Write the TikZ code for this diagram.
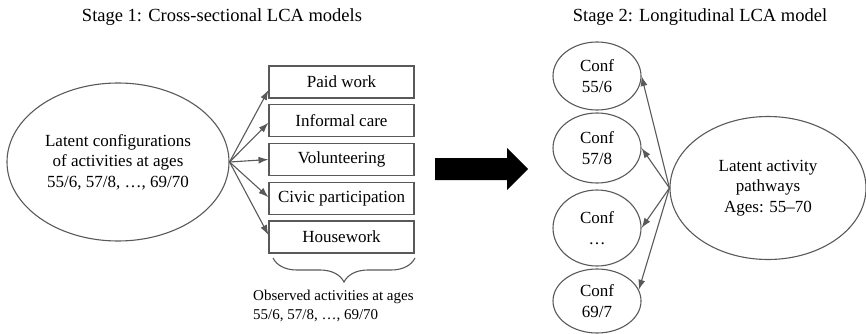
\documentclass[tikz,border=0pt]{standalone}
\usepackage{fontspec}
\setmainfont{Liberation Serif}
\usepackage{tikz}
\usetikzlibrary{shapes.geometric, arrows.meta, positioning, decorations.pathreplacing}

\begin{document}
\begin{tikzpicture}[x=1pt, y=-1pt,
    line/.style={draw=black!65, line width=1.1pt},
    obsbox/.style={line, rectangle, minimum width=145pt, minimum height=32pt, inner sep=0pt,
        font=\fontsize{17}{20}\selectfont},
    latent/.style={line, ellipse, inner sep=0pt, align=center, font=\fontsize{17}{20.5}\selectfont},
    conf/.style={latent, minimum width=88pt, minimum height=70pt},
    arr/.style={-{Latex[length=10pt, width=7pt]}, draw=black!65, line width=1.1pt}]
    \useasboundingbox (0,0) rectangle (866,334);

    % 見出し
    \node[font=\fontsize{18.5}{22}\selectfont] (title1) at (222,17) {Stage 1: Cross-sectional LCA models};
    \node[font=\fontsize{18.5}{22}\selectfont] (title2) at (700,17) {Stage 2: Longitudinal LCA model};

    % 第1段階
    \node[latent, minimum width=222pt, minimum height=158pt] (config) at (118,162)
        {Latent configurations\\of activities at ages\\55/6, 57/8, …, 69/70};
    \foreach \i/\act/\dy in {1/Paid work/-8, 2/Informal care/-2, 3/Volunteering/0, 4/Civic participation/1, 5/Housework/2} {
        \node[obsbox] (b\i) at (341.5,43.25+38.75*\i) {\act};
        \draw[arr] (config.east) -- ([yshift=\dy pt]b\i.west);
    }
    \coordinate (brleft) at (273,258);
    \coordinate (brright) at (415,258);
    \draw[line, decorate, decoration={brace, mirror, amplitude=24pt}] (brleft) -- (brright);
    \node[anchor=north west, align=left, inner sep=0pt, font=\fontsize{15}{19}\selectfont] (observed) at (253,290)
        {Observed activities at ages\\55/6, 57/8, …, 69/70};

    % 太い矢印
    \fill[black] (435,158) -- (507,158) -- (507,148) -- (528,169) -- (507,190) -- (507,180) -- (435,180) -- cycle;

    % 第2段階
    \node[latent, minimum width=196pt, minimum height=143pt] (pathway) at (768,188)
        {Latent activity\\pathways\\Ages: 55–70};
    \foreach \n/\y/\h/\age/\end in {1/76/68/{55/6}/east, 2/148/70/{57/8}/east, 3/228/76/{…}/east, 4/301/64/{69/7}/15} {
        \node[conf, minimum height=\h pt] (c\n) at (597,\y) {Conf\\\age};
        \draw[arr] (pathway.west) -- (c\n.\end);
    }
\end{tikzpicture}
\end{document}
